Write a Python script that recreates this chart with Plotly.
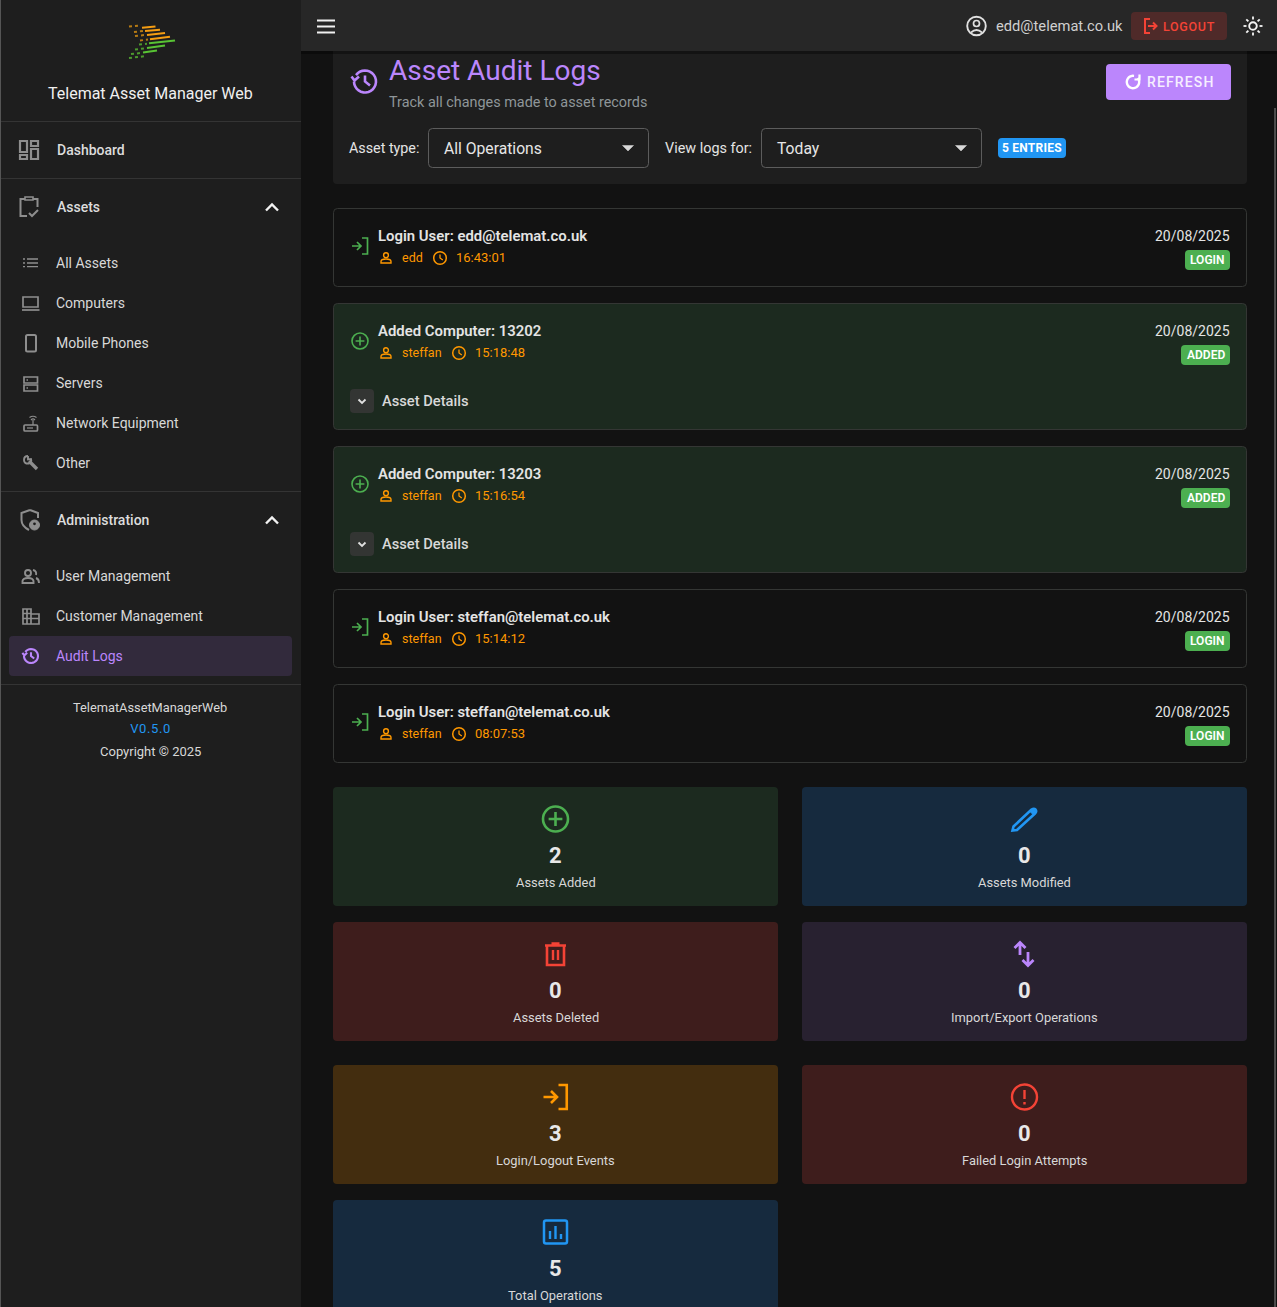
import json
import math
import plotly.graph_objects as go

W, H = 1277, 1307
FONT = "Roboto"

# colours
BG = "#121212"
PANEL = "#1e1e1e"
BAR = "#272727"
DIV = "#343434"
PURPLE = "#bb86fc"
GREEN = "#4caf50"
BLUE = "#2196f3"
RED = "#f44336"
ORANGE = "#ff9800"
ICON_GREY = "#8e8e8e"

# sidebar text
app_name = "Telemat Asset Manager Web"
nav_main = ["Dashboard", "Assets", "Administration"]
nav_asset_items = ["All Assets", "Computers", "Mobile Phones", "Servers", "Network Equipment", "Other"]
nav_admin_items = ["User Management", "Customer Management", "Audit Logs"]
footer_lines = ["TelematAssetManagerWeb", "V0.5.0", "Copyright © 2025"]

# log entries
log_titles = ["Login User: edd@telemat.co.uk", "Added Computer: 13202", "Added Computer: 13203",
              "Login User: steffan@telemat.co.uk", "Login User: steffan@telemat.co.uk"]
log_users = ["edd", "steffan", "steffan", "steffan", "steffan"]
log_times = ["16:43:01", "15:18:48", "15:16:54", "15:14:12", "08:07:53"]
log_dates = ["20/08/2025"] * 5
log_badges = ["LOGIN", "ADDED", "ADDED", "LOGIN", "LOGIN"]

# summary cards
stat_labels = ["Assets Added", "Assets Modified", "Assets Deleted", "Import/Export Operations",
               "Login/Logout Events", "Failed Login Attempts", "Total Operations"]
stat_values = [2, 0, 0, 0, 3, 0, 5]
stat_fills = ["#1c2a1f", "#162a3e", "#3e1d1c", "#282130", "#432d0f", "#3e1d1c", "#162a3e"]

# plotly fonts have no letter spacing, set on the page afterwards
letter_spacing = {"REFRESH": 1.15, "LOGOUT": 0.7, "5 ENTRIES": 0.25, "V0.5.0": 0.6}

shapes = []
annots = []


def rrect(x0, y0, x1, y1, r=4, fill=None, line=None, lw=1):
    d = (f"M {x0+r} {y0} L {x1-r} {y0} Q {x1} {y0} {x1} {y0+r} L {x1} {y1-r} Q {x1} {y1} {x1-r} {y1} "
         f"L {x0+r} {y1} Q {x0} {y1} {x0} {y1-r} L {x0} {y0+r} Q {x0} {y0} {x0+r} {y0} Z")
    shapes.append(dict(type="path", path=d, fillcolor=fill or "rgba(0,0,0,0)",
                       line=dict(color=line or "rgba(0,0,0,0)", width=lw if line else 0)))


def box(x0, y0, x1, y1, fill):
    shapes.append(dict(type="rect", x0=x0, x1=x1, y0=y0, y1=y1, fillcolor=fill, line=dict(width=0)))


def text(x, y, s, size=14, color="#e0e0e0", anchor="left", weight=400):
    # annotations sit about 1px inside their anchor
    if anchor == "left":
        x -= 1
    elif anchor == "right":
        x += 1
    annots.append(dict(x=x, y=y, text=s, showarrow=False, xanchor=anchor, yanchor="middle", borderpad=0,
                       font=dict(family=FONT, size=size, color=color, weight=weight)))


def draw(cx, cy, d, color, lw=2, scale=1, fill=None):
    # d is an icon path in px around its centre, only M L Q Z
    out = []
    nums = []
    for tok in d.split():
        if tok.isalpha():
            out.append(tok)
        else:
            nums.append(float(tok))
            if len(nums) == 2:
                out.append(f"{cx + nums[0]*scale:.2f} {cy + nums[1]*scale:.2f}")
                nums = []
    shapes.append(dict(type="path", path=" ".join(out), fillcolor=fill or "rgba(0,0,0,0)",
                       line=dict(color=color, width=lw)))


def ring(cx, cy, r, color, lw=2, fill=None):
    shapes.append(dict(type="circle", x0=cx-r, x1=cx+r, y0=cy-r, y1=cy+r, fillcolor=fill or "rgba(0,0,0,0)",
                       line=dict(color=color, width=lw)))


def arc(r, a0, a1):
    # polyline arc, angles in degrees clockwise from 3 o'clock
    n = 24
    pts = []
    for i in range(n + 1):
        a = math.radians(a0 + (a1 - a0) * i / n)
        pts.append(f"{r*math.cos(a):.2f} {r*math.sin(a):.2f}")
    return "M " + " L ".join(pts)


def icon_login(cx, cy, color, scale=1, lw=1.7):
    draw(cx, cy, "M 2 -8 L 7.5 -8 L 7.5 8 L 2 8", color, lw, scale)
    draw(cx, cy, "M -8 0 L 0 0 M -3 -4 L 1 0 L -3 4", color, lw, scale)


def icon_plus(cx, cy, r, color, lw=1.6):
    ring(cx, cy, r, color, lw)
    k = r * 0.55
    draw(cx, cy, f"M {-k} 0 L {k} 0 M 0 {-k} L 0 {k}", color, lw)


def icon_history(cx, cy, r, color, lw):
    s = r / 11
    draw(cx, cy, arc(r, 215, 540), color, lw)
    draw(cx, cy, "M -13.5 -5 L -10.5 -1 L -6 -5", color, lw, s)
    draw(cx, cy, "M 0 -6 L 0 0 L 5 4", color, lw, s)


# page regions
box(0, 0, 301, H, PANEL)
box(0, 0, 1, H, "#555555")
box(1274, 108, 1276, H, "#4c4c4c")

# logo streaks
for p0, p1, c in [((142, 27.8), (155.5, 26.4), "#f59d12"), ((145, 31), (160, 29.8), "#f59d12"),
                  ((147, 35), (165, 33), "#f59d12"), ((150, 39.3), (170, 36.8), "#f59d12"),
                  ((149, 43.3), (175, 40.6), "#58c334"), ((147, 48), (165, 45.6), "#58c334"),
                  ((143, 52.6), (157, 50.4), "#58c334")]:
    shapes.append(dict(type="line", x0=p0[0], y0=p0[1], x1=p1[0], y1=p1[1], line=dict(color=c, width=2)))
for p0, p1, c in [((129, 26.5), (141, 25.5), "#b57a14"), ((134, 32), (143, 31), "#b57a14"),
                  ((135, 36), (145, 35), "#b57a14"), ((140, 40.5), (148, 39.5), "#b57a14"),
                  ((139, 44.5), (147, 43.8), "#4c9a2e"), ((135, 49.5), (145, 48.4), "#4c9a2e"),
                  ((131, 54), (141, 53), "#4c9a2e"), ((129, 58), (145, 56.2), "#4c9a2e")]:
    shapes.append(dict(type="line", x0=p0[0], y0=p0[1], x1=p1[0], y1=p1[1],
                       line=dict(color=c, width=2, dash="dot")))

text(150, 93, app_name, 16, "#f0f0f0", "center")
for y in [121.5, 178.5, 491.5, 684.5]:
    shapes.append(dict(type="line", x0=1, x1=301, y0=y, y1=y, line=dict(color=DIV, width=1)))

# sidebar nav
rrect(9, 636, 292, 676, 4, fill="#322a3c")
for label, y in zip(nav_main, [150, 207, 520]):
    text(57, y, label, 14, "#dcdcdc", weight=500)
for y in [207, 520]:
    draw(272, y, "M -6 3.5 L 0 -2.5 L 6 3.5", "#f2f2f2", 2.4)
for label, y in zip(nav_asset_items, [263, 303, 343, 383, 423, 463]):
    text(56, y, label, 14, "#d8d8d8")
for label, y, c in zip(nav_admin_items, [576, 616, 656], ["#d8d8d8", "#d8d8d8", PURPLE]):
    text(56, y, label, 14, c)
text(150, 707, footer_lines[0], 12.8, "#d8d8d8", "center")
text(150, 728.5, footer_lines[1], 13, BLUE, "center")
text(150, 751.5, footer_lines[2], 13, "#d8d8d8", "center")

# sidebar icons
for b in [(20, 141, 27, 152), (20, 155, 27, 159), (31, 141, 38, 146), (31, 149, 38, 159)]:
    shapes.append(dict(type="rect", x0=b[0], y0=b[1], x1=b[2], y1=b[3], line=dict(color=ICON_GREY, width=2.2)))
draw(29, 207, "M -4 -8 L -8.5 -8 L -8.5 9 L -2 9 M 4 -8 L 8.5 -8 L 8.5 0", ICON_GREY, 2)
draw(29, 207, "M -4 -7 L -4 -10 L 4 -10 L 4 -7 Z", ICON_GREY, 1.6)
draw(29, 207, "M 0 6 L 3 9 L 9 3", ICON_GREY, 2)
draw(31, 263, "M -4 -4 L 7 -4 M -4 0 L 7 0 M -4 3.7 L 7 3.7 M -8 -4 L -6 -4 M -8 0 L -6 0 M -8 3.7 L -6 3.7", ICON_GREY, 1.3)
shapes.append(dict(type="rect", x0=23, y0=297, x1=38, y1=307, line=dict(color=ICON_GREY, width=1.7)))
draw(31, 310, "M -9 0 L 8.5 0", ICON_GREY, 1.7)
rrect(26, 335, 36, 351.5, 1.5, line=ICON_GREY, lw=2)
shapes.append(dict(type="rect", x0=24, y0=377, x1=37.5, y1=383, line=dict(color=ICON_GREY, width=1.7)))
shapes.append(dict(type="rect", x0=24, y0=385, x1=37.5, y1=391, line=dict(color=ICON_GREY, width=1.7)))
draw(31, 380, "M -4.5 0 L -3 0", ICON_GREY, 1.4)
draw(31, 388, "M -4.5 0 L -3 0", ICON_GREY, 1.4)
rrect(24, 425, 37.5, 431, 1, line=ICON_GREY, lw=1.7)
draw(31, 423, "M 2 2 L 2 -3 M 0 -3 Q 2 -5 4 -3 M -1.5 -5.5 Q 2 -8 5.5 -5.5", ICON_GREY, 1.2)
draw(31, 428, "M -4 0 L 2 0", ICON_GREY, 1.2)
draw(31, 463, "M -2 -2 L 6 6", ICON_GREY, 3.4)
draw(31, 463, "M -3 -7 Q -7 -7 -7 -3 Q -7 1 -2 0.5 Q 1 -1 0 -4 L -3 -3.5 L -3 -7", ICON_GREY, 1.9)
draw(30, 520, "M 0 -10 L -8.5 -7 L -8.5 0 Q -8.5 6 -1 10 M 0 -10 L 8 -7 L 8 -2", ICON_GREY, 2)
ring(34.5, 525, 5, ICON_GREY, 1, fill=ICON_GREY)
ring(34.5, 523.8, 1.4, PANEL, 0, fill=PANEL)
ring(28, 573, 3, ICON_GREY, 1.9)
draw(28, 573, "M -5.5 10 L -5.5 8 Q -5 5 0 5 Q 5 5 5.5 8 L 5.5 10 Z", ICON_GREY, 1.9)
draw(28, 573, "M 5 -3 Q 9 -2 8 2 M 8 5 Q 11 6 11 10", ICON_GREY, 1.9)
draw(31, 616, "M -8 8 L -8 -7 L 0 -7 L 0 -2 L 8 -2 L 8 8 Z M 0 -2 L 0 8 M -4 -7 L -4 8 M -8 -2.5 L 0 -2.5 M -8 2.5 L 8 2.5", ICON_GREY, 1.7)
icon_history(31, 656, 7, PURPLE, 2.1)

# header card, the top bar covers its upper edge
rrect(333, 40, 1247, 184, 4, fill=PANEL)
icon_history(365, 81.5, 11, PURPLE, 2.6)
text(389, 70, "Asset Audit Logs", 28, PURPLE)
text(389, 102, "Track all changes made to asset records", 14.4, "#8f9699")
rrect(1106, 64, 1231, 100, 4, fill=PURPLE)
draw(1133, 82, arc(6.2, -40, 280), "#ffffff", 2.4)
draw(1133, 82, "M 6.5 -7.5 L 6.5 -2.5 L 1.5 -2.5", "#ffffff", 2.2)
text(1181, 82, "REFRESH", 14, "#f6eeff", "center", 500)
text(349, 148, "Asset type:", 14.3, "#e4e4e4")
text(665, 148, "View logs for:", 14.4, "#e4e4e4")
for x0, label in [(428.5, "All Operations"), (761.5, "Today")]:
    rrect(x0, 128.5, x0 + 220, 167.5, 4, line="#5c5c5c")
    text(x0 + 15.5, 148, label, 15.7, "#e6e6e6")
    draw(x0 + 199.5, 148, "M -5.5 -2.5 L 5.5 -2.5 L 0 3 Z", "#d8d8d8", 0.5, fill="#d8d8d8")
rrect(998, 138, 1066, 158, 4, fill=BLUE)
text(1032, 148, "5 ENTRIES", 12, "#ffffff", "center", 700)

# top bar
box(301, 0, W, 51, BAR)
box(301, 51, W, 54, "rgba(0,0,0,0.35)")
for y in [20.5, 26.5, 32.5]:
    draw(326, y, "M -9 0 L 9 0", "#f0f0f0", 2)
ring(976.5, 26, 9.3, "#e0e0e0", 1.9)
ring(976.5, 23.5, 3, "#e0e0e0", 1.7)
draw(976.5, 26, "M -5.5 6.5 Q 0 1.5 5.5 6.5", "#e0e0e0", 1.7)
text(996, 26, "edd@telemat.co.uk", 14.7, "#d0d0d0")
rrect(1131, 12, 1227, 40, 4, fill="#4f2a29")
draw(1150, 26, "M 0 -7 L -5 -7 L -5 7 L 0 7", RED, 2)
draw(1150, 26, "M -2 0 L 6 0 M 3 -3.5 L 6.5 0 L 3 3.5", RED, 2)
text(1189, 26, "LOGOUT", 12.5, RED, "center", 500)
ring(1253, 26, 3.8, "#f5f5f5", 1.9)
for i in range(8):
    a = math.radians(45 * i)
    draw(1253, 26, f"M {6.5*math.cos(a):.2f} {6.5*math.sin(a):.2f} L {9.5*math.cos(a):.2f} {9.5*math.sin(a):.2f}", "#f5f5f5", 1.8)

# log cards
tops = [208, 303, 446, 589, 684]
for i, top in enumerate(tops):
    added = log_badges[i] == "ADDED"
    rrect(333.5, top + 0.5, 1246.5, top + (126.5 if added else 78.5), 4,
          fill="#1c2a1f" if added else BG, line="#343634")
    if added:
        icon_plus(360, top + 38, 8, GREEN, 1.6)
    else:
        icon_login(360, top + 38, GREEN)
    text(378, top + 28, log_titles[i], 14.9, "#e4e4e4", weight=600)
    draw(386, top + 50, "M -5 5 L -5 3.5 Q -5 1 0 1 Q 5 1 5 3.5 L 5 5 Z", ORANGE, 1.4)
    ring(386, top + 47.2, 2.4, ORANGE, 1.4)
    text(402, top + 49.5, log_users[i], 12.5, ORANGE)
    cx = 440 if log_users[i] == "edd" else 459
    ring(cx, top + 50, 6.3, ORANGE, 1.5)
    draw(cx, top + 50, "M 0 -3.5 L 0 0 L 2.8 2", ORANGE, 1.3)
    text(cx + 15.5, top + 49.5, log_times[i], 13, ORANGE)
    text(1230, top + 28, log_dates[i], 14, "#e4e4e4", "right")
    bx = 1185 if log_badges[i] == "LOGIN" else 1181
    rrect(bx, top + 42, 1230, top + 62, 4, fill=GREEN)
    text((bx + 1230) / 2, top + 52, log_badges[i], 12, "#ffffff", "center", 600)
    if added:
        rrect(350, top + 86, 374, top + 110, 4, fill="#333533")
        draw(362, top + 98, "M -3.5 -1.5 L 0 2 L 3.5 -1.5", "#e0e0e0", 1.8)
        text(382, top + 98, "Asset Details", 14.7, "#d8d8d8", weight=500)

# summary cards
stat_cols = [333, 802, 333, 802, 333, 802, 333]
stat_tops = [787, 787, 922, 922, 1065, 1065, 1200]
for i in range(len(stat_labels)):
    x0, top = stat_cols[i], stat_tops[i]
    rrect(x0, top, x0 + 445, top + 119, 4, fill=stat_fills[i])
    cx = x0 + 222.5
    text(cx, top + 68.5, str(stat_values[i]), 22, "#e8e8e8", "center", 700)
    text(cx, top + 95.5, stat_labels[i], 12.9, "#d8d8d8", "center")

icon_plus(555.5, 819, 12.5, GREEN, 2.6)
draw(1024.5, 819, "M -12 11.5 L -11 7.5 L 7 -9.5 Q 9.5 -11 11 -9.5 Q 12.5 -7.5 10.5 -5.5 L -7.5 11 Z", BLUE, 2.6)
draw(1024.5, 819, "M 5 -8 L 7 -9.5 Q 9.5 -11 11 -9.5 Q 12.5 -7.5 10.5 -5.5 L 9 -4 Z", BLUE, 1, fill=BLUE)
draw(555.5, 954, "M -10.5 -8.5 L 10.5 -8.5 M -4 -10.5 L 4 -10.5", RED, 2.6)
draw(555.5, 954, "M -8.5 -8 L -8.5 11 L 8.5 11 L 8.5 -8", RED, 2.6)
draw(555.5, 954, "M -2.5 -4 L -2.5 6 M 2.5 -4 L 2.5 6", RED, 2.4)
draw(1024.5, 954, "M -4.5 -11 L -4.5 1 M -10 -6 L -4.5 -11.5 L 1 -6", PURPLE, 2.8)
draw(1024.5, 954, "M 3.5 -2 L 3.5 11 M -2 6 L 3.5 11.5 L 9 6", PURPLE, 2.8)
icon_login(555.5, 1097, ORANGE, 1.5, 2.6)
ring(1024.5, 1097, 12.5, RED, 2.4)
draw(1024.5, 1097, "M 0 -7 L 0 2 M 0 5 L 0 7.5", RED, 2.4)
rrect(544, 1220.5, 567, 1243.5, 2, line=BLUE, lw=2.5)
draw(555.5, 1232, "M -5.5 7 L -5.5 -1 M 0 7 L 0 -6 M 5.5 7 L 5.5 2", BLUE, 2.4)

fig = go.Figure()
fig.update_layout(width=W, height=H, margin=dict(l=0, r=0, t=0, b=0),
                  paper_bgcolor=BG, plot_bgcolor=BG, showlegend=False,
                  xaxis=dict(range=[0, W], visible=False, fixedrange=True),
                  yaxis=dict(range=[H, 0], visible=False, fixedrange=True),
                  shapes=shapes, annotations=annots)

post = ("document.body.style.margin='0';document.documentElement.style.overflow='hidden';"
        "var sp=" + json.dumps(letter_spacing) + ";"
        "document.querySelectorAll('.annotation-text').forEach(function(t){"
        "if(sp[t.textContent])t.style.letterSpacing=sp[t.textContent]+'px';});")
fig.write_html("out.html", config=dict(displayModeBar=False), post_script=post)
